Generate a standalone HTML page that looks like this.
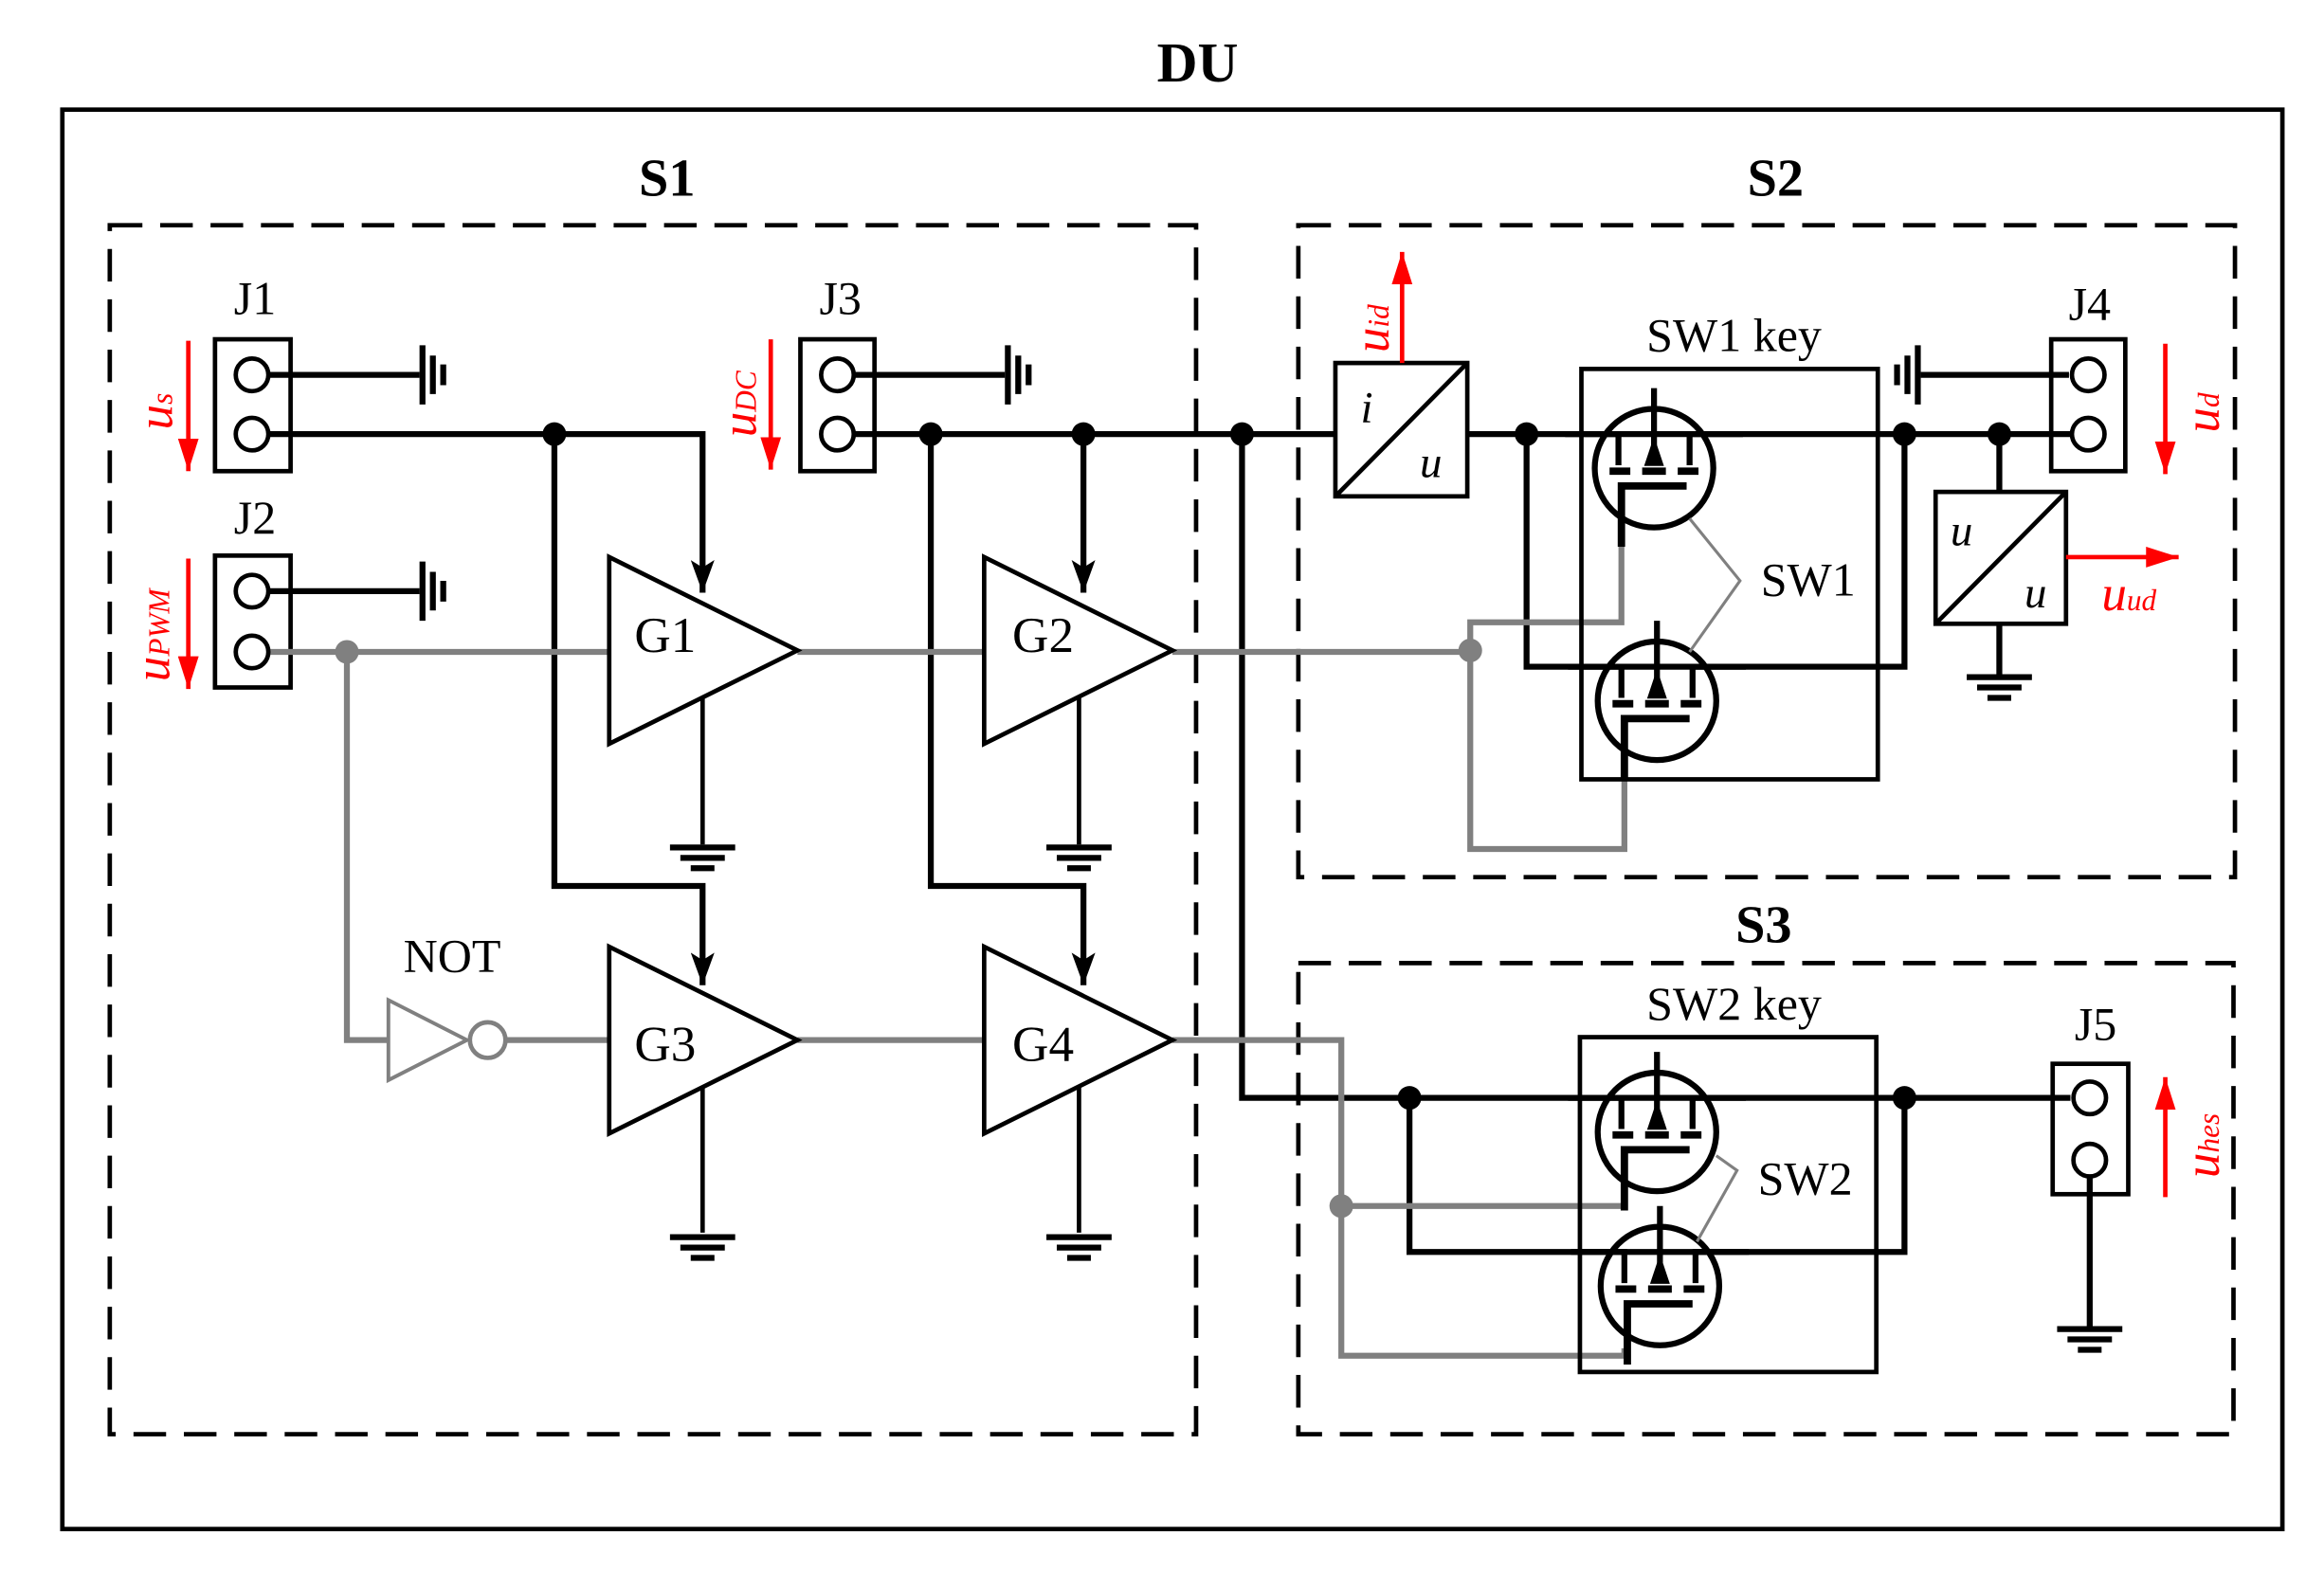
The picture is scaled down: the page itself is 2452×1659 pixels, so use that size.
<!DOCTYPE html>
<html><head><meta charset="utf-8"><style>
html,body{margin:0;padding:0;background:#fff;}
svg{display:block;}
text{font-family:"Liberation Serif",serif;}
</style></head><body>
<svg width="2452" height="1659" viewBox="0 0 1568 1061" xmlns="http://www.w3.org/2000/svg">
<defs>
<marker id="ab" markerWidth="22" markerHeight="16" refX="22" refY="8" orient="auto" markerUnits="userSpaceOnUse" viewBox="0 0 22 16"><path d="M0,0 L22,8 L0,16 L5,8 Z" fill="#000"/></marker>
<marker id="ar" markerWidth="22" markerHeight="14" refX="22" refY="7" orient="auto" markerUnits="userSpaceOnUse" viewBox="0 0 22 14"><path d="M0,0 L22,7 L0,14 Z" fill="#f00"/></marker>
<g id="mos" fill="none" stroke="#000" stroke-width="4">
  <circle cx="0" cy="0" r="40"/>
  <path d="M-60,-23 H-24 V-2 M60,-23 H24 V-2 M0,-54 V-2"/>
  <path d="M-30,2 H-16 M-8,2 H8 M16,2 H30" stroke-width="5"/>
  <path d="M0,-20 L-6,-2 L6,-2 Z" fill="#000" stroke-width="1"/>
  <path d="M-22,53 V12 H22" stroke-width="5"/>
</g>
<g id="gndv" stroke="#000" stroke-width="4"><path d="M0,-20 V20 M7,-13 V13 M14,-7 V7"/></g>
<g id="gndd" stroke="#000" stroke-width="4"><path d="M-22,0 H22 M-15,7 H15 M-8,14 H8"/></g>
</defs>

<text x="808" y="55" font-size="38" font-weight="bold" text-anchor="middle">DU</text>
<rect x="42" y="74" width="1498" height="958" fill="none" stroke="#000" stroke-width="3"/>

<g fill="none" stroke="#000" stroke-width="3" stroke-dasharray="22,12">
<rect x="74" y="152" width="733" height="816"/>
<rect x="876" y="152" width="632" height="440"/>
<rect x="876" y="650" width="631" height="318"/>
</g>
<g font-size="36" font-weight="bold" text-anchor="middle">
<text x="450" y="132">S1</text><text x="1198" y="132">S2</text><text x="1190" y="636">S3</text>
</g>

<g fill="#fff" stroke="#000" stroke-width="3">
<rect x="145" y="229" width="51" height="89"/><rect x="145" y="375" width="51" height="89"/>
<rect x="540" y="229" width="50" height="89"/><rect x="1384" y="229" width="50" height="89"/>
<rect x="1385" y="718" width="51" height="88"/>
</g>
<g font-size="32" text-anchor="middle">
<text x="172" y="212">J1</text><text x="172" y="360">J2</text><text x="567" y="212">J3</text>
<text x="1410" y="216">J4</text><text x="1414" y="702">J5</text>
</g>

<g fill="none" stroke="#000" stroke-width="4">
<path d="M182,253 H283"/><use href="#gndv" x="285" y="253"/>
<path d="M182,399 H283"/><use href="#gndv" x="285" y="399"/>
<path d="M577,253 H678"/><use href="#gndv" x="680" y="253"/>
<path d="M1396,253 H1296"/><use href="#gndv" x="1294" y="253" transform="translate(2588,0) scale(-1,1)"/>
<path d="M182,293 H474 V400" marker-end="url(#ab)"/>
<path d="M374,293 V598 H474 V665" marker-end="url(#ab)"/>
<path d="M577,293 H901"/>
<path d="M731,293 V400" marker-end="url(#ab)"/>
<path d="M628,293 V598 H731 V665" marker-end="url(#ab)"/>
<path d="M838,293 V741 H1397"/>
<path d="M990,293 H1397"/>
<path d="M1030,293 V450 H1285 V293"/>
<path d="M1349,293 V332"/>
<path d="M1349,421 V455"/>
<path d="M951,741 V845 H1285 V741"/>
<path d="M1410,795 V895"/>
<path d="M474,471 V570 M728,471 V570 M474,734 V832 M728,734 V832" stroke-width="3"/>
</g>
<use href="#gndd" x="474" y="572"/><use href="#gndd" x="728" y="572"/>
<use href="#gndd" x="474" y="835"/><use href="#gndd" x="728" y="835"/>
<use href="#gndd" x="1349" y="457"/><use href="#gndd" x="1410" y="897"/>

<g fill="none" stroke="#808080" stroke-width="4">
<path d="M182,440 H411 M538,440 H664 M791,440 H992"/>
<path d="M234,440 V702 H262"/>
<path d="M341,702 H411 M538,702 H664 M791,702 H905 V915 H1096 V910"/>
<path d="M905,814 H1096 V806"/>
<path d="M992,439 V420 H1094 V360 M992,439 V573 H1096 V520"/>
</g>
<g fill="#808080"><circle cx="234" cy="440" r="8"/><circle cx="992" cy="439" r="8"/><circle cx="905" cy="814" r="8"/></g>
<polygon points="262,675 262,729 315,702" fill="#fff" stroke="#808080" stroke-width="2.5"/>
<circle cx="329" cy="702" r="12" fill="#fff" stroke="#808080" stroke-width="3"/>
<text x="305" y="656" font-size="32" text-anchor="middle">NOT</text>

<g fill="#fff" stroke="#000" stroke-width="3">
<circle cx="170" cy="253" r="11"/><circle cx="170" cy="293" r="11"/>
<circle cx="170" cy="399" r="11"/><circle cx="170" cy="440" r="11"/>
<circle cx="565" cy="253" r="11"/><circle cx="565" cy="293" r="11"/>
<circle cx="1409" cy="253" r="11"/><circle cx="1409" cy="293" r="11"/>
<circle cx="1410" cy="741" r="11"/><circle cx="1410" cy="783" r="11"/>
</g>

<g fill="#fff" stroke="#000" stroke-width="3">
<polygon points="411,376 411,502 538,439"/><polygon points="664,376 664,502 791,439"/>
<polygon points="411,639 411,765 538,702"/><polygon points="664,639 664,765 791,702"/>
</g>
<g font-size="34">
<text x="428" y="440">G1</text><text x="683" y="440">G2</text>
<text x="428" y="716">G3</text><text x="683" y="716">G4</text>
</g>

<g fill="#000">
<circle cx="374" cy="293" r="8"/><circle cx="628" cy="293" r="8"/><circle cx="731" cy="293" r="8"/>
<circle cx="838" cy="293" r="8"/><circle cx="1030" cy="293" r="8"/><circle cx="1285" cy="293" r="8"/>
<circle cx="1349" cy="293" r="8"/><circle cx="951" cy="741" r="8"/><circle cx="1285" cy="741" r="8"/>
</g>

<g fill="#fff" stroke="#000" stroke-width="3">
<rect x="901" y="245" width="89" height="90"/><rect x="1306" y="332" width="88" height="89"/>
</g>
<path d="M901,335 L990,245 M1306,421 L1394,332" stroke="#000" stroke-width="3"/>
<g font-size="30" font-style="italic">
<text x="918" y="285">i</text><text x="958" y="322">u</text>
<text x="1316" y="368">u</text><text x="1366" y="410">u</text>
</g>

<rect x="1067" y="249" width="200" height="277" fill="none" stroke="#000" stroke-width="3"/>
<rect x="1066" y="700" width="200" height="226" fill="none" stroke="#000" stroke-width="3"/>
<use href="#mos" x="1116" y="316"/><use href="#mos" x="1118" y="473"/>
<use href="#mos" x="1118" y="764"/><use href="#mos" x="1120" y="868"/>
<g font-size="32" text-anchor="middle">
<text x="1170" y="237">SW1 key</text><text x="1170" y="688">SW2 key</text>
<text x="1220" y="402">SW1</text><text x="1218" y="806">SW2</text>
</g>
<path d="M1140,350 L1174,392 L1140,440" fill="none" stroke="#808080" stroke-width="2"/>
<path d="M1158,780 L1172,790 L1145,838" fill="none" stroke="#808080" stroke-width="2"/>

<g stroke="#f00" stroke-width="3" fill="none">
<path d="M127,230 V318" marker-end="url(#ar)"/>
<path d="M127,377 V465" marker-end="url(#ar)"/>
<path d="M520,229 V317" marker-end="url(#ar)"/>
<path d="M946,245 V170" marker-end="url(#ar)"/>
<path d="M1461,232 V320" marker-end="url(#ar)"/>
<path d="M1394,376 H1470" marker-end="url(#ar)"/>
<path d="M1461,808 V727" marker-end="url(#ar)"/>
</g>
<g fill="#f00" font-style="italic" font-size="34">
<text transform="translate(116,290) rotate(-90)">u<tspan font-size="20">s</tspan></text>
<text transform="translate(114,460) rotate(-90)">u<tspan font-size="20">PWM</tspan></text>
<text transform="translate(510,295) rotate(-90)">u<tspan font-size="20">DC</tspan></text>
<text transform="translate(937,238) rotate(-90)">u<tspan font-size="20">id</tspan></text>
<text transform="translate(1497,292) rotate(-90)">u<tspan font-size="20">d</tspan></text>
<text transform="translate(1497,795) rotate(-90)">u<tspan font-size="20">hes</tspan></text>
<text x="1418" y="412">u<tspan font-size="20">ud</tspan></text>
</g>
</svg>
</body></html>
